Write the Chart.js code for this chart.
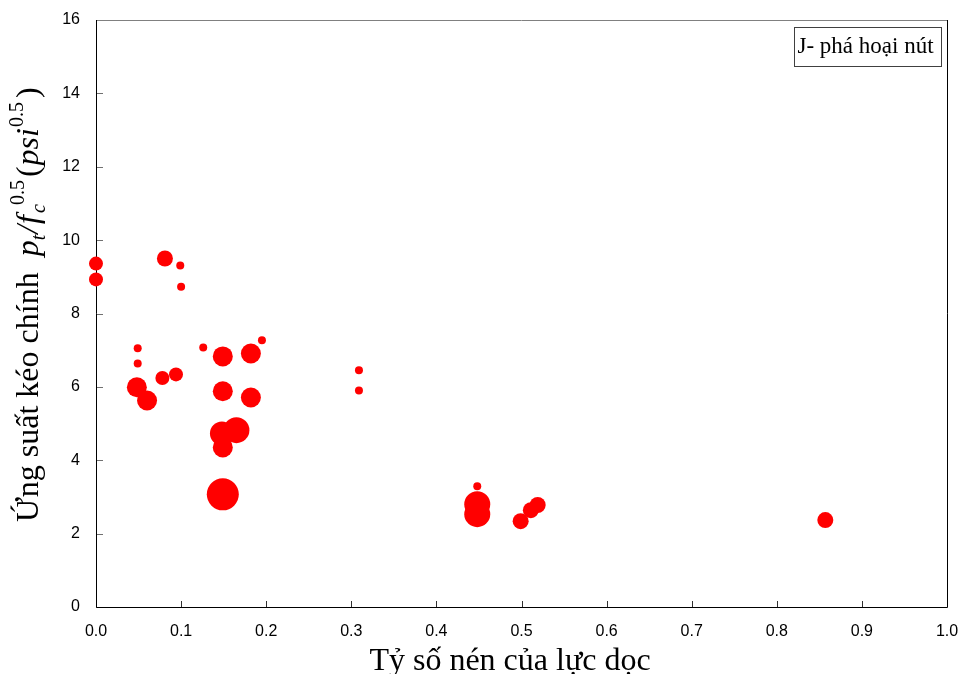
<!DOCTYPE html>
<html><head><meta charset="utf-8">
<script src="https://cdn.jsdelivr.net/npm/chart.js@4.4.0/dist/chart.umd.min.js"></script>
<style>html,body{margin:0;padding:0;background:#fff}#wrap{width:967px;height:674px;position:relative}</style>
</head><body><div id="wrap"><canvas id="c"></canvas></div>
<script>
// Data
const axialRatio = [0, 0, 0.081, 0.099, 0.100, 0.049, 0.049, 0.048, 0.060, 0.078, 0.094, 0.126, 0.149, 0.182, 0.195, 0.149, 0.182, 0.148, 0.165, 0.149, 0.149, 0.309, 0.309, 0.448, 0.448, 0.448, 0.499, 0.511, 0.519, 0.857];
const principalStress = [9.36, 8.93, 9.50, 9.31, 8.73, 7.05, 6.64, 5.99, 5.63, 6.24, 6.34, 7.07, 6.83, 6.91, 7.27, 5.88, 5.71, 4.73, 4.82, 4.35, 3.07, 6.45, 5.90, 3.29, 2.80, 2.53, 2.34, 2.64, 2.78, 2.37];
const bubbleSize = [7, 7, 8, 4, 4, 4, 4, 10, 10, 7, 7, 4, 10, 10, 4, 10, 10, 12, 13, 10, 16, 4, 4, 4, 13, 13, 8, 8, 8, 8];
const xTickValues = [0, 0.1, 0.2, 0.3, 0.4, 0.5, 0.6, 0.7, 0.8, 0.9, 1.0];
const yTickValues = [0, 2, 4, 6, 8, 10, 12, 14, 16];
const xTitle = 'Tỷ số nén của lực dọc';
const legendLabel = 'J- phá hoại nút';

const points = axialRatio.map((x, i) => ({ x: x, y: principalStress[i], r: bubbleSize[i] }));

const serif = '"Liberation Serif", "Times New Roman", serif';
const sans = '"Liberation Sans", Arial, sans-serif';

function zeroPadding(s) {
  s.paddingLeft = 0; s.paddingRight = 0; s.paddingTop = 0; s.paddingBottom = 0;
}

const framePlugin = {
  id: 'frame',
  beforeDatasetsDraw(chart) {
    const { ctx, chartArea: a, scales: { x, y } } = chart;
    ctx.save();
    ctx.lineWidth = 1;
    // inward ticks
    ctx.strokeStyle = '#707070';
    yTickValues.forEach(v => {
      const py = Math.round(y.getPixelForValue(v)) + 0.5;
      ctx.beginPath(); ctx.moveTo(a.left, py); ctx.lineTo(a.left + 7, py); ctx.stroke();
    });
    ctx.strokeStyle = '#303030';
    xTickValues.forEach(v => {
      const px = Math.round(x.getPixelForValue(v)) + 0.5;
      ctx.beginPath(); ctx.moveTo(px, a.bottom); ctx.lineTo(px, a.bottom - 6); ctx.stroke();
    });
    // frame
    ctx.strokeStyle = '#808080';
    ctx.beginPath(); ctx.moveTo(a.left, a.top + 0.5); ctx.lineTo(a.right, a.top + 0.5); ctx.stroke();
    ctx.strokeStyle = '#000';
    ctx.beginPath();
    ctx.moveTo(a.left + 0.5, a.top); ctx.lineTo(a.left + 0.5, a.bottom + 0.5);
    ctx.lineTo(a.right + 0.5, a.bottom + 0.5); ctx.lineTo(a.right + 0.5, a.top);
    ctx.stroke();
    ctx.restore();
  },
  afterDraw(chart) {
    const { ctx, chartArea: a } = chart;
    ctx.save();
    // legend box
    const bx = a.right - 153, by = a.top + 7, bw = 147, bh = 39;
    ctx.strokeStyle = '#404040';
    ctx.lineWidth = 1;
    ctx.strokeRect(bx + 0.5, by + 0.5, bw, bh);
    ctx.fillStyle = '#000';
    ctx.font = '23px ' + serif;
    ctx.textAlign = 'center';
    ctx.textBaseline = 'alphabetic';
    ctx.fillText(legendLabel, bx + bw / 2 - 2, by + 26);

    // x-axis title
    ctx.font = '32px ' + serif;
    ctx.fillText(xTitle, 510, 670);

    // y-axis title with italic/sub/superscript parts
    const pieces = [
      { t: 'Ứng suất kéo chính  ', f: '32px ' + serif, dy: 0 },
      { t: 'p', f: 'italic 32px ' + serif, dy: 0 },
      { t: 't', f: 'italic 20px ' + serif, dy: 7, adv: 1 },
      { t: '/', f: 'italic 32px ' + serif, dy: 0, adv: 1 },
      { t: 'f', f: 'italic 32px ' + serif, dy: 0, adv: 2 },
      { t: 'c', f: 'italic 20px ' + serif, dy: 7, adv: -1 },
      { t: '0.5', f: '20px ' + serif, dy: -14, adv: 3 },
      { t: '(', f: '32px ' + serif, dy: 0, adv: 1 },
      { t: 'psi', f: 'italic 32px ' + serif, dy: 0, adv: 1 },
      { t: '0.5', f: '20px ' + serif, dy: -15, adv: 4 },
      { t: ')', f: '32px ' + serif, dy: 0 }
    ];
    ctx.translate(38, 522);
    ctx.rotate(-Math.PI / 2);
    ctx.textAlign = 'left';
    let cx = 0;
    pieces.forEach(p => {
      ctx.font = p.f;
      ctx.fillText(p.t, cx, p.dy);
      cx += ctx.measureText(p.t).width + (p.adv || 0);
    });
    ctx.restore();
  }
};

new Chart(document.getElementById('c'), {
  type: 'bubble',
  data: {
    datasets: [{
      data: points,
      backgroundColor: '#ff0000',
      borderColor: '#ff0000',
      borderWidth: 0,
      hoverBorderWidth: 0,
      clip: false
    }]
  },
  options: {
    responsive: true,
    maintainAspectRatio: false,
    animation: false,
    devicePixelRatio: 1,
    layout: { autoPadding: false, padding: { left: 0, top: 20, right: 20, bottom: 0 } },
    plugins: { legend: { display: false }, tooltip: { enabled: false } },
    scales: {
      x: {
        type: 'linear', min: 0, max: 1,
        afterBuildTicks: s => { s.ticks = xTickValues.map(v => ({ value: v })); },
        afterFit: s => { s.height = 67; zeroPadding(s); },
        grid: { display: false, drawTicks: false },
        border: { display: false },
        ticks: { padding: 15, color: '#000', font: { family: sans, size: 16 }, callback: v => Number(v).toFixed(1), maxRotation: 0, autoSkip: false }
      },
      y: {
        type: 'linear', min: 0, max: 16,
        afterBuildTicks: s => { s.ticks = yTickValues.map(v => ({ value: v })); },
        afterFit: s => { s.width = 96; zeroPadding(s); },
        grid: { display: false, drawTicks: false },
        border: { display: false },
        ticks: { padding: 16, color: '#000', font: { family: sans, size: 16 }, autoSkip: false }
      }
    }
  },
  plugins: [framePlugin]
});
</script>
</body></html>
